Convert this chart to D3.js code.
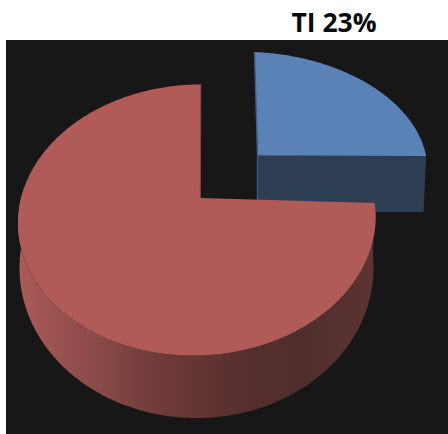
<!DOCTYPE html>
<html>
<head>
<meta charset="utf-8">
<style>
html,body{margin:0;padding:0;background:#fff;overflow:hidden}
svg{display:block}
</style>
<script src="https://cdn.jsdelivr.net/npm/d3@7"></script>
</head>
<body>
<svg id="chart" width="448" height="434"></svg>
<script>
// Share of each category, in percent
const categories = ["TI", "Other"];
const shares = [23, 77];
const shareLabels = ["TI 23%"];
const faceColors = ["#5a82b6", "#b05b58"];

const svg = d3.select("#chart");
const W = 448, H = 434;
const deg = Math.PI / 180;

svg.append("rect").attr("x", 6).attr("y", 40).attr("width", W - 6).attr("height", H - 40).attr("fill", "#171717");

// Wedge angles, measured clockwise from the top of the disc
const wedges = d3.pie().sort(null).value(d => d)
  .startAngle(1.3 * deg).endAngle(1.3 * deg + 2 * Math.PI)(shares);

// Scales turning a unit disc into an elliptical rim on the page
function rim(cx, cy, rx, ry, tilt) {
  const x = d3.scaleLinear().domain([-1, 1]).range([cx - rx, cx + rx]);
  const y = d3.scaleLinear().domain([-1, 1]).range([cy - ry, cy + ry]);
  return t => [x(Math.sin(t)), y(-Math.cos(t)) + tilt * Math.sin(t)];
}
const arcPoints = (f, a, b) => {
  const n = Math.ceil(Math.abs(b - a) / (0.5 * deg));
  return d3.range(n + 1).map(i => f(a + (b - a) * i / n));
};
const line = d3.line();

const defs = svg.append("defs");
const wallGrad = defs.append("linearGradient").attr("id", "wallShade")
  .attr("gradientUnits", "userSpaceOnUse").attr("x1", 18).attr("x2", 376).attr("y1", 0).attr("y2", 0);
[[0, "#ab5a57"], [0.12, "#985150"], [0.25, "#854845"], [0.38, "#713c3a"], [0.5, "#643533"],
 [0.65, "#552f2e"], [0.8, "#4f2e2d"], [1, "#5c3431"]].forEach(s =>
  wallGrad.append("stop").attr("offset", s[0]).attr("stop-color", s[1]));

// Blue wedge, pulled away from the disc
const tiTop = rim(254.5, 163, 173, 111, 7);
const tiBase = rim(255, 219, 170, 111, 7);
const tiApex = [257.5, 155.5];
const tiApexLow = [257.5, 212];
const tiA0 = wedges[0].startAngle - 1.3 * deg, tiA1 = wedges[0].endAngle - 1.3 * deg;
const tiCorner = tiTop(tiA1);
const tiCornerLow = tiBase(tiA1);
const tiStart = tiTop(tiA0);

svg.append("path").attr("fill", "#2e3e52")
  .attr("d", line([tiApex, tiCorner, tiCornerLow, tiApexLow]) + "Z");
svg.append("path").attr("fill", faceColors[0])
  .attr("d", line([tiApex].concat(arcPoints(tiTop, tiA0, tiA1))) + "Z");
svg.append("path").attr("fill", "none").attr("stroke", "#3f5a7c").attr("stroke-width", 1.4)
  .attr("d", line([tiStart, tiApex, tiApexLow]));

// Red disc: side wall first, then the top face over it
const discTop = rim(196.8, 220, 178.8, 135.5, -3);
const discBase = rim(196.5, 268, 177, 150, 0);
const apex = [200.3, 198];
const a0 = wedges[1].startAngle, a1 = wedges[1].endAngle;

const wallFrom = 85 * deg, wallTo = 285 * deg;
svg.append("path").attr("fill", "url(#wallShade)")
  .attr("d", line(arcPoints(discTop, wallFrom, wallTo).concat(arcPoints(discBase, wallTo, wallFrom))) + "Z");

svg.append("path").attr("fill", faceColors[1])
  .attr("d", line([apex].concat(arcPoints(discTop, a0, a1))) + "Z");
svg.append("path").attr("fill", "none").attr("stroke", "#7f4745").attr("stroke-width", 1)
  .attr("d", line([apex, discTop(a1)]));

// Heading above the panel
svg.append("text").attr("x", 334).attr("y", 32).attr("text-anchor", "middle")
  .attr("font-family", "'Open Sans', sans-serif").attr("font-weight", 700)
  .attr("font-size", 26.5).attr("fill", "#0b0b0b").text(shareLabels[0]);
</script>
</body>
</html>
